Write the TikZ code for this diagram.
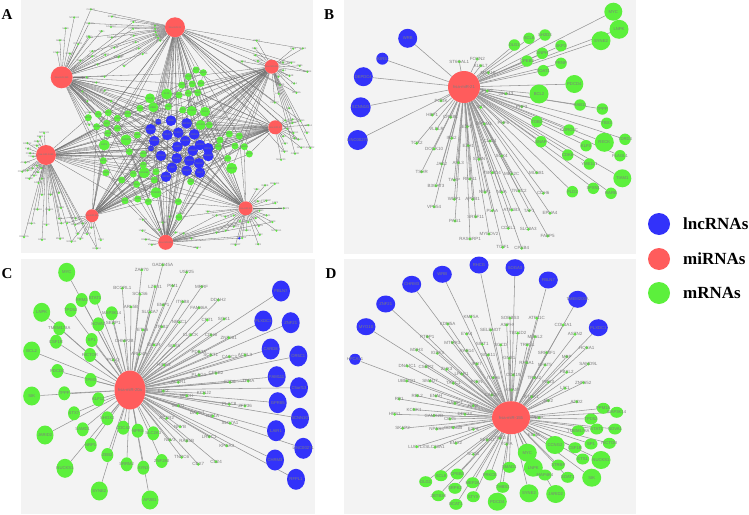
\documentclass[tikz,border=0pt]{standalone}
\usepackage{fontspec}
\setmainfont{Liberation Serif}
\newfontfamily\lsans{Liberation Sans}
\usetikzlibrary{backgrounds,shapes.geometric}
\definecolor{lncb}{RGB}{50,50,250}
\definecolor{mir}{RGB}{255,92,92}
\definecolor{mgr}{RGB}{92,240,60}
\definecolor{pbg}{RGB}{243,243,243}
\definecolor{edg}{RGB}{150,150,150}
\definecolor{edga}{RGB}{115,115,115}
\definecolor{labg}{RGB}{125,125,125}
\def\genearr{{"ABCA1","ACVR2A","ADAM10","AKT3","ARID1A","ATF2","BMPR2","CADM1","CCND1","CDC25A","CREBBP","CUL3","DICER1","E2F1","EIF4G2","ETS1","FBXW7","FOXO3","GSK3B","HMGA2","IGF1R","KLF4","KRAS","LATS2","MAP2K1","MCL1","NOTCH1","PAK1","PIK3CA","PTEN","RAB22A","RHOB","SMAD4","SOX9","SP1","TGFBR2","TP53INP1","VEGFA","YAP1","ZEB1"}}
\def\lncarr{{"WRB","DEPDC4","SCNN1G","LINC00271","FBLN7","PLXDC1","ZNF21","CHRM3","LAIR1","C5orf13","GPR85","RFPL1","MYO10","HPCAL1","RHCG","SOGA3","TMEM200A","CARD8","FAM111","KIRS","OR5C1","DBC1","NXPE2"}}
% ---------- data lists ----------
\def\AHubs{175/27.3/20/hsa-miR-21,61.7/77.3/22/hsa-miR-155,271.7/66.7/14/hsa-miR-20a,275.3/127.3/14/hsa-miR-17,46/155/20/hsa-miR-106b,245.7/208.3/14/hsa-miR-93,92/215.7/13/hsa-miR-19a,165.7/242.3/15/hsa-miR-92a}
\def\AFans{a1/f1/168/222/24/20/22/0,a2/f2/20/100/12/25/12/3,a2/f2b/-60/0/8/25/10/5,a3/f3/-85/40/14/12/8/9,a3/f3b/-75/-62/6/45/15/11,a3/f3c/120/170/5/15/5/13,a4/f4/-80/35/12/12/7/17,a5/f5/95/200/9/13/3/19,a5/f5b/215/260/10/14/5/21,a5/f5c/255/295/14/40/15/23,a6/f6/-175/-10/20/14/8/27,a6/f6b/0/60/7/14/8/29,a7/f7/185/290/10/12/7/31,a8/f8/-10/190/12/14/6/33}
\def\ABlue{171/120.7/10.6,186.7/123.3/10.6,158.3/121.7/6,150.7/129.3/10.6,167.3/135/10.6,178.3/132.7/10.6,194.3/134.3/10.6,154.3/141/10.6,177.3/146.7/10.6,185.3/141/10.6,200/145/10.6,208/148.3/10.6,151/148.3/6,161/155.7/10.6,176.7/158.3/10.6,192.7/150.7/10.6,208.3/156/10.6,189.3/160.7/10.6,199/163.3/10.6,172/167.7/10.6,186.7/170.7/10.6,200/172.7/10.6,166/176.7/10.6}
\def\AGreen{196/70/7,203.3/72.7/7,188.3/76.7/7,181.7/85/7,192.3/84/7,201/83.3/7,166.7/94/11,179/95/7,188.3/93.3/7,197.7/92.7/7,150/98.3/10,140/108.3/7,153.3/107.3/10,168.3/106.7/7,182.7/110/7,191.7/111/10,205/111.7/10,200.7/125/10,209.3/125/7,88.3/117.7/7,98.3/114.3/7,108.3/112.7/7,117.3/118.3/7,127.7/114/7,96.7/126.7/7,106.7/123.3/7,117.3/128.3/7,107.7/133.3/7,126/140/11,137.3/135/7,104.3/145/11,129.3/151.7/7,143.3/154/7,220/140/7,229.3/134/7,239.3/136/7,218.3/146.7/7,235/146/7,244.3/146.7/7,249.3/154/7,227.7/158.3/7,231.7/168.3/11,103.3/160.7/7,106/172.7/7,133.3/174/7,144.3/172.7/11,156/171.7/7,121.7/180/7,136.7/184.3/7,154.3/180/7,190.7/181.7/7,156/192.7/11,125/200.7/7,137.7/199/7,148.3/201.7/7,178.3/201.7/7,179/217.3/7,143.3/165/7}
\def\BLnc{407.7/38.3/19/WRB,382.3/58.7/12/KIRS,363.3/76.7/19/DEPDC4,360.7/107.3/20/SCNN1G,357.7/140/20/LINC00271}
\def\BGr{613.3/11.7/18/MYC,619/29.3/19/LNPK,601/40.7/19/SYNE2,514.3/45/11.5/DLG1,529/38.3/11.5/SCL8,545/35/11.5/SH2D3,561/45.7/11.5/SKP2,542.3/53.3/11.5/SNPH,527/61/11.5/CPEB3,561/63.3/11.5/PRNP,543.3/70.7/11.5/SOAT1,574.3/84/18/PDCD4,539/94/19/BCL2,580/105/11.5/RAB11,602.3/109/11.5/TPPP,606.7/123.3/11.5/TBX3,536.7/121.7/11.5/TOB2,569/130/11.5/CORO1C,604.3/142.3/19/RECK,625/139.3/11.5/TDRD3,586/145.7/11.5/KLF3,620/155.7/11.5/PLAGL1,541/141.7/11.5/SNAP,567.7/155/11.5/CDK6,589.3/164/11.5/YME1L1,622.3/178.3/18/TIAM1,572.3/191.7/11.5/PLD1,593.3/188.3/11.5/SFXN1,611/193.3/11.5/RARB}
\def\BDot{459.3/61.7/ST6GAL1,477.3/59/FOXN2,480.7/65.7/KLHL7,488.3/72.7/MAP1B,487.3/91/PLS3,506/93.7/GNA13,521.7/106.7/PHF3,480.7/107.3/SP3,441/100.7/POGK,432.3/115/HBP1,450.7/117.3/CREB1,436.7/129/VLDLR,467.3/126.7/E2F2,484.3/124/PRDM1,503.3/122.7/PHF6,416.7/143.3/TOX2,434/149/DOCK10,451.7/138.3/IRS2,468.3/145.7/EZH1,490/141/CLIC4,501.7/156/SOX4,479/159.3/STRN,421.7/171.7/TSHR,441.7/164/JAK2,458.3/162.7/ARL3,492.3/172.7/TBC1D4,511.7/174/MEF2C,536.7/172.7/MUS81,436/185.7/B3GAT3,454.3/180/TARP,470/179/RNF11,485/192.3/NRP1,501.7/192.3/NFIA,519/191/TNRC2,543.3/193.3/CDH6,434/206.7/VPS54,454.3/199.3/WBP1,472.7/199.3/APBB1,492.3/210.7/PLAA,511.7/210/ATP1B3,529.3/210.7/TAF1,550/213.3/EPHA4,455/221/PAG1,475.7/216.7/SRSF11,508.3/228.3/CDKL1,528.3/229.3/SLC8A3,547.7/236/FABP5,470/239/RASGRP1,489/234/MYEOV2,502.7/247.3/TGIF1,521.7/248.3/CPEB4}
\def\CLnc{281/291/FBLN7,263.3/321/PLXDC1,290.7/322.7/ZNF21,270.7/349/CARD8,298.3/356/OR5C1,276.7/376.7/FAM111,299/387.7/C5orf13,277.7/402.7/GPR85,300/418.3/SCNN1G,276/430.7/LAIR1,303.3/448.3/LINC00271,275/460/CHRM3,296/479.3/RFPL1}
\def\CGr{66.7/272.3/17/19/MYC,41.7/312.3/17/19/LNPK,31.7/351/17/19/BCL2,31.7/396/17/19/SIK,45/435/17/19/JARID2,65/468.3/17/19/NUCKS1,99.3/491/17/19/SYNE2,150/500/17/19/AP2B1,95/297.7/12/14/STAT1,81.7/300/12/14/RRM2,70.7/310/12/14/TPD52,59.3/328.3/12/14/TMEM178A,98.3/324.3/12/14/NOVA1,111.7/313.3/12/14/MAP3K14,91.7/340/12/14/SP1,90/355/12/14/RICTOR,56/341.7/12/14/CSF1R,57.3/371/12/14/PDCD4,90.7/380/12/14/TPM3,64.3/393.3/12/14/TPPP,98.3/399.3/12/14/KLF12,74/413.3/12/14/STX7,107.3/418.3/12/14/SHOX2,82.7/429.3/12/14/SAMD1,90.7/445/12/14/NRP1,107.3/455/12/14/ZEB2,123.3/427.7/12/14/CDC42,137.7/430.7/12/14/NPR3,153.3/433.3/12/14/SLC2A3,126.7/464.3/12/14/SRRM2,143.3/467.7/12/14/SYN3,161.7/461/12/14/ZNF280}
\def\CDot{141.7/270/ZAP70,162.7/265/GADD45A,186.7/272.3/USP25,122.3/288.3/BCORL1,155/286.7/LZTS1,172.7/285.7/PIM1,201.7/286.7/MRRF,140/294.3/SOCS6,163.3/305/EMP1,182.7/301.7/ITGB8,199/307.7/FAM46A,218.3/300/DDAH2,150/312.3/SLC4A7,131/307/ARL5B,113.3/323.3/SERP1,179.3/322.3/NR3C1,207.3/320/CPT1,224/319/SGK1,142.7/330/ETV6,161.7/326.7/TRIB2,190.7/335/CLOCK,211/335/CDH6,228.7/337.7/ZNF281,124.3/341/CHMP2B,154/345/IGF1R,174/345.7/SOX5,199/351.7/PDE3A,210.7/355/SCRT1,229.3/356.7/CASC3,245/355/ACSL3,139.3/354.3/ARID4A,113.3/360/POLQ,164/365/HIPK3,199/375/PLAG1,216/373.3/CPEB2,230/382.3/FZD6,248.3/381/TPRA,178.3/382.3/ACVR1,163.3/391/ELF2,186.7/395.7/MTDH,204/393.3/KCNJ2,229.3/404.3/PLAC8,245/406/ZFP36,178.3/405.7/MXD1,197.3/413.3/DAPK1,212.7/416/HIF1A,230/423.3/SLC7A1,166.7/418.3/ACTR2,180/426.7/NFYB,170/440/NAV3,186.7/441/RAB5B,209.3/436.7/LRRC1,226.7/445.7/KPNA3,181.7/457.3/TNRC6,198.3/464.3/CBX7,216/461.7/CD24}
\def\DLnc{479/265/19/17/RHCG,515/267.7/19/17/SOGA3,442.3/274.3/19/17/WRB,548.3/280/19/17/FBLN7,411.7/284.3/19/17/CHRM3,577.7/299.3/19/17/TMEM200A,385.7/304/19/17/ZNF21,366/326.7/19/17/MYO10,598.3/327.7/19/17/PLXDC1,355/359.3/12/11/HPCAL1}
\def\DGr{603.3/408.3/13/11/PPM1A,616.7/412.3/13/11/MAP3K14,591/419/13/11/TPD52,596.7/429/13/11/STAT1,615/429/13/11/NOVA1,578.3/430.7/13/11/TMEM178A,555/445/19/18/CCNG2,575/447.7/13/11/CSF1R,591/444/13/11/SP1,609.3/443.3/13/11/RICTOR,527.3/452.7/19/18/MYC,582.7/459/13/11/ETS1,601/460/19/18/NUCKS1,533.3/467.7/19/18/LNPK,558.3/465/13/11/STRBP,509.3/467.3/13/11/SMAD3,545/475/13/11/MAP4K4,567.7/477.3/13/11/SOAT1,591.7/477.7/19/18/SIK,425.7/481.7/13/11/DLG1,441/475.7/13/11/SCL8,457.3/474/13/11/CPEB3,472.7/482.7/13/11/MEF2A,490/475/13/11/PRKCE,438.3/495.7/13/11/ZBTB38,455/488.3/13/11/SRPK2,473.3/496.7/13/11/STYX,456/504.3/13/11/BCAT1,502.7/487.3/13/11/THBS1,529/493.3/19/18/SYNE2,555.7/494/19/18/JARID2,497.3/501.7/19/18/PDCD4}
\def\DDot{471/316.7/KMT5A,510/318.3/SORBS3,536.7/318.3/ATP11C,447.7/324/KDM5A,490.7/330/SELENOT,506.7/325/ASPH,517.7/333.3/TBC1D2,535/336.7/MBNL2,563.3/325/COL4A1,575/334.3/ASTN2,586.7/347.7/HOXA1,427.3/336.7/PTBP1,466.7/334/EYA4,482.3/344.3/SIRT1,500.7/345/SGCD,527.3/345/TRPS1,546.7/352.7/SREBF1,566.7/356.7/MBP,416.7/350/MSH3,437.3/353.3/IGSF3,452.3/342.7/MTMR3,466.7/350.7/RAB14,488.3/355/SOX11,509.3/358.3/GNB1,526.7/362.7/RASA1,545/365/NFAT5,588.3/364/SAMD9L,407.3/366/DNAJC1,426/366.7/CSRP2,446.7/369.3/ZHX3,461.7/374/LPAR1,476.7/364/IPO7,493.3/377.7/ITGA6,513.3/375/CDK19,534.3/377.7/TRIM2,548.3/382.3/PDK3,566.7/372.3/FBXL2,583.3/382.7/ZNF652,406.7/381/UBE2Q1,430/381/SMAD7,453.3/383.3/TACC1,476.7/381.7/PTEN,511.7/390/KRAS,531.7/396.7/ETNK1,548.3/400.7/ABI2,565/388.3/LIX1,399.3/399/RB1,417.3/395.7/RBL2,436/396/ENAH,455/403.3/NAMPT,473.3/405.7/NFIB,491.7/395/CAB39,539/417.7/LPP,576.7/401.7/ADD2,394.7/414.3/HPS1,414/409.5/KCNK1,434/415.5/CAMK2D,450/419/CBX5,465/414.3/DDX3X,402.7/428.3/SKAP2,436.7/429/NPAS3,453.3/427.7/CDKN1B,473.3/429.3/E2F3,487.3/440/SESN3,500/438.3/TPBG,534/435/EIF4E,416.7/446.7/LUC7L3,435/447.3/SLC30A1,456/443.3/EMX2,473.3/454.3/SOS1,506.7/444.3/TGFA}
\tikzset{
  pnl/.style={fill=pbg,draw=none},
  plab/.style={font=\fontsize{15}{15}\selectfont\bfseries,inner sep=0pt},
  legt/.style={font=\fontsize{17}{17}\selectfont\bfseries,anchor=west,inner sep=0pt},
  legc/.style={circle,inner sep=0pt,minimum size=22pt},
  hubn/.style={ellipse,fill=mir,inner sep=0pt},
  lncn/.style={ellipse,fill=lncb,inner sep=0pt},
  mrn/.style={ellipse,fill=mgr,inner sep=0pt},
  sdot/.style={circle,fill=mgr,inner sep=0pt,minimum size=3.2pt},
  adot/.style={circle,fill=mgr,inner sep=0pt,minimum size=2.4pt},
  nlab/.style={text=labg,font=\lsans\fontsize{4.2}{4.2}\selectfont,inner sep=0pt},
  slab/.style={text=labg,font=\lsans\fontsize{4.5}{4.5}\selectfont,inner sep=0pt},
  alab/.style={text=labg,font=\lsans\fontsize{2.4}{2.4}\selectfont,inner sep=0pt},
  lnk/.style={draw=edg,line width=0.55pt},
  alnk/.style={draw=edga,line width=0.3pt},
}
\newcommand\afan[8]{%
  \foreach \i in {1,...,#5}{%
    \pgfmathsetmacro\ang{#3+(#4-#3)*(\i-1)/(#5-1)}%
    \pgfmathsetmacro\rad{#6+mod(\i*3,4)*#7}%
    \pgfmathsetmacro\gname{\genearr[mod(\i*7+#8,40)]}%
    \path (#1) ++({\rad*cos(\ang)},{-\rad*sin(\ang)}) node[adot,label={[alab]center:\gname}] (#2n\i) {};%
  }%
}
\begin{document}
\begin{tikzpicture}[x=1pt,y=-1pt]
\useasboundingbox (0,0) rectangle (749,514);
\begin{pgfonlayer}{background}
\fill[pnl] (21,0) rectangle (313,253);
\fill[pnl] (344,0) rectangle (636,254);
\fill[pnl] (21,259) rectangle (315,514);
\fill[pnl] (344,259) rectangle (636,514);
\end{pgfonlayer}
% panel letters
\node[plab] (LA) at (7,15) {A};
\node[plab] (LB) at (329,15) {B};
\node[plab] (LC) at (7,274) {C};
\node[plab] (LD) at (331,274) {D};
% legend
\node[legc,fill=lncb] (lg1) at (659,224) {};
\node[legt] (lt1) at (683,224) {lncRNAs};
\node[legc,fill=mir] (lg2) at (659,259) {};
\node[legt] (lt2) at (683,259) {miRNAs};
\node[legc,fill=mgr] (lg3) at (659,293) {};
\node[legt] (lt3) at (683,293) {mRNAs};

% ================= PANEL A nodes =================
\foreach \x/\y/\dd/\tx [count=\i] in \AHubs {
  \node[hubn,minimum width=\dd pt,minimum height=\dd pt,label={[alab]center:\tx}] (a\i) at (\x,\y) {};
}
\foreach \hb/\pf/\aa/\ab/\nn/\ra/\rs/\of in \AFans {\afan{\hb}{\pf}{\aa}{\ab}{\nn}{\ra}{\rs}{\of}}
\node[circle,fill=lncb,inner sep=0pt,minimum size=2.6pt] (abx) at (239.3,238.3) {};
\foreach \x/\y/\dd [count=\i] in \ABlue {
  \pgfmathsetmacro\gname{\lncarr[mod(\i-1,23)]}
  \node[lncn,minimum width=\dd pt,minimum height=\dd pt,label={[alab]center:\gname}] (ab\i) at (\x,\y) {};
}
\foreach \x/\y/\dd [count=\i] in \AGreen {
  \pgfmathsetmacro\gname{\genearr[mod(\i*3,40)]}
  \node[mrn,minimum width=\dd pt,minimum height=\dd pt,label={[alab]center:\gname}] (ag\i) at (\x,\y) {};
}
% ================= PANEL B nodes =================
\node[hubn,minimum width=32pt,minimum height=32pt,label={[nlab]center:hsa-miR-21}] (bh) at (464,87) {};
\foreach \x/\y/\dd/\tx [count=\i] in \BLnc {
  \node[lncn,minimum width=\dd pt,minimum height=\dd pt,label={[nlab]center:\tx}] (bl\i) at (\x,\y) {};
}
\foreach \x/\y/\dd/\tx [count=\i] in \BGr {
  \node[mrn,minimum width=\dd pt,minimum height=\dd pt,label={[nlab]center:\tx}] (bg\i) at (\x,\y) {};
}
\foreach \x/\y/\tx [count=\i] in \BDot {
  \node[sdot,label={[slab]center:\tx}] (bd\i) at (\x,\y) {};
}
% ================= PANEL C nodes =================
\node[hubn,minimum width=31pt,minimum height=39pt,label={[nlab]center:hsa-miR-20a}] (ch) at (130,390) {};
\foreach \x/\y/\tx [count=\i] in \CLnc {
  \node[lncn,minimum width=18pt,minimum height=21pt,label={[nlab]center:\tx}] (cl\i) at (\x,\y) {};
}
\foreach \x/\y/\w/\hh/\tx [count=\i] in \CGr {
  \node[mrn,minimum width=\w pt,minimum height=\hh pt,label={[nlab]center:\tx}] (cg\i) at (\x,\y) {};
}
\foreach \x/\y/\tx [count=\i] in \CDot {
  \node[sdot,label={[slab]center:\tx}] (cd\i) at (\x,\y) {};
}
% ================= PANEL D nodes =================
\node[hubn,minimum width=38pt,minimum height=33pt,label={[nlab]center:hsa-miR-155}] (dh) at (511,417.7) {};
\foreach \x/\y/\w/\hh/\tx [count=\i] in \DLnc {
  \node[lncn,minimum width=\w pt,minimum height=\hh pt,label={[nlab]center:\tx}] (dl\i) at (\x,\y) {};
}
\foreach \x/\y/\w/\hh/\tx [count=\i] in \DGr {
  \node[mrn,minimum width=\w pt,minimum height=\hh pt,label={[nlab]center:\tx}] (dg\i) at (\x,\y) {};
}
\foreach \x/\y/\tx [count=\i] in \DDot {
  \node[sdot,label={[slab]center:\tx}] (dd\i) at (\x,\y) {};
}

% ================= ALL CONNECTORS (one background block) =================
\begin{pgfonlayer}{background}
\foreach \hb/\pf/\aa/\ab/\nn/\ra/\rs/\of in \AFans {\foreach \i in {1,...,\nn} {\draw[alnk] (\hb) -- (\pf n\i);}}
\draw[alnk] (a6) -- (abx);
\foreach \j in {1,3,...,13} {\draw[alnk] (a1) -- (f3n\j);}
\foreach \j in {2,4,...,12} {\draw[alnk] (a1) -- (f4n\j);}
\foreach \j in {1,3,...,23} {\draw[alnk] (a2) -- (f1n\j);}
\foreach \j in {1,3,...,9} {\draw[alnk] (a5) -- (f7n\j);}
\foreach \j in {2,4,...,20} {\draw[alnk] (a8) -- (f6n\j);}
\foreach \x/\y/\dd [count=\i] in \ABlue {
  \foreach \h in {1,...,8}{\pgfmathtruncatemacro\m{mod(\i+\h,2)}\ifnum\m=0 \draw[alnk] (a\h) -- (ab\i);\fi}
}
\foreach \x/\y/\dd [count=\i] in \AGreen {
  \foreach \h in {1,...,8}{\pgfmathtruncatemacro\m{mod(\i+2*\h,3)}\ifnum\m=0 \draw[alnk] (a\h) -- (ag\i);\fi}
}
\foreach \x/\y/\dd/\tx [count=\i] in \BLnc {\draw[lnk] (bh) -- (bl\i);}
\foreach \x/\y/\dd/\tx [count=\i] in \BGr {\draw[lnk] (bh) -- (bg\i);}
\foreach \x/\y/\tx [count=\i] in \BDot {\draw[lnk] (bh) -- (bd\i);}
\foreach \x/\y/\tx [count=\i] in \CLnc {\draw[lnk] (ch) -- (cl\i);}
\foreach \x/\y/\w/\hh/\tx [count=\i] in \CGr {\draw[lnk] (ch) -- (cg\i);}
\foreach \x/\y/\tx [count=\i] in \CDot {\draw[lnk] (ch) -- (cd\i);}
\foreach \x/\y/\w/\hh/\tx [count=\i] in \DLnc {\draw[lnk] (dh) -- (dl\i);}
\foreach \x/\y/\w/\hh/\tx [count=\i] in \DGr {\draw[lnk] (dh) -- (dg\i);}
\foreach \x/\y/\tx [count=\i] in \DDot {\draw[lnk] (dh) -- (dd\i);}
\end{pgfonlayer}
\end{tikzpicture}
\end{document}
